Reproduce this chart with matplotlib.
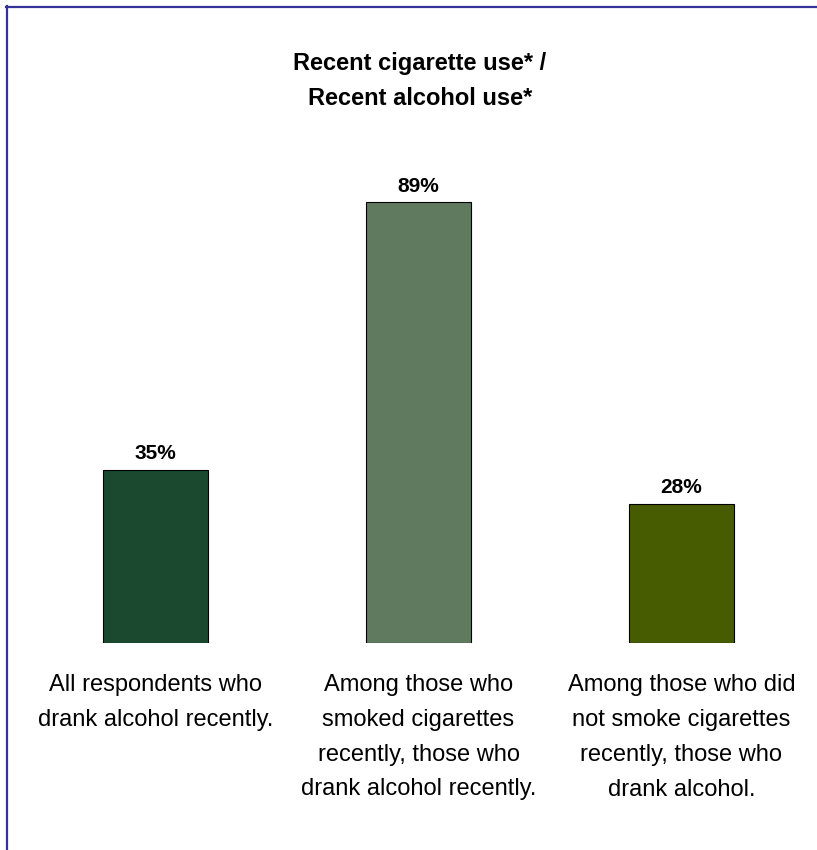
import matplotlib
matplotlib.use("Agg")
import matplotlib.pyplot as plt
from matplotlib.lines import Line2D

plt.rcParams["font.family"] = ["Liberation Sans", "DejaVu Sans"]

categories = [
    "All respondents who\ndrank alcohol recently.",
    "Among those who\nsmoked cigarettes\nrecently, those who\ndrank alcohol recently.",
    "Among those who did\nnot smoke cigarettes\nrecently, those who\ndrank alcohol.",
]
values = [35, 89, 28]
bar_colors = ["#1b4930", "#5f7a5f", "#475c00"]
title = "Recent cigarette use* /\nRecent alcohol use*"

W, H = 817, 850
fig = plt.figure(figsize=(W / 100, H / 100), dpi=100)
ax = fig.add_axes([24 / W, 207 / H, 789 / W, 495 / H])

x = range(len(values))
bars = ax.bar(x, values, width=0.4, color=bar_colors, edgecolor="black", linewidth=0.8)
for b, v in zip(bars, values):
    ax.annotate(f"{v}%", (b.get_x() + b.get_width() / 2, v), xytext=(0, 5),
                textcoords="offset points", ha="center", va="bottom",
                fontsize=15, fontweight="bold")

ax.set_xlim(-0.5, 2.5)
ax.set_ylim(0, 100)
ax.set_xticks(list(x))
ax.set_xticklabels(categories, fontsize=17, linespacing=1.75)
ax.tick_params(axis="x", length=0, pad=22.5)
ax.set_yticks([])
for s in ax.spines.values():
    s.set_visible(False)

fig.text(420 / W, 1 - 81 / H, title, ha="center", va="center",
         fontsize=17, fontweight="bold", linespacing=1.7)

# frame: only top and left edges visible in the reference
fig.add_artist(Line2D([6 / W, 1], [1 - 7 / H, 1 - 7 / H], color="#333399", lw=1.6,
                      transform=fig.transFigure))
fig.add_artist(Line2D([7 / W, 7 / W], [0, 1 - 6 / H], color="#333399", lw=1.6,
                      transform=fig.transFigure))

fig.savefig("out.png", dpi=100)
